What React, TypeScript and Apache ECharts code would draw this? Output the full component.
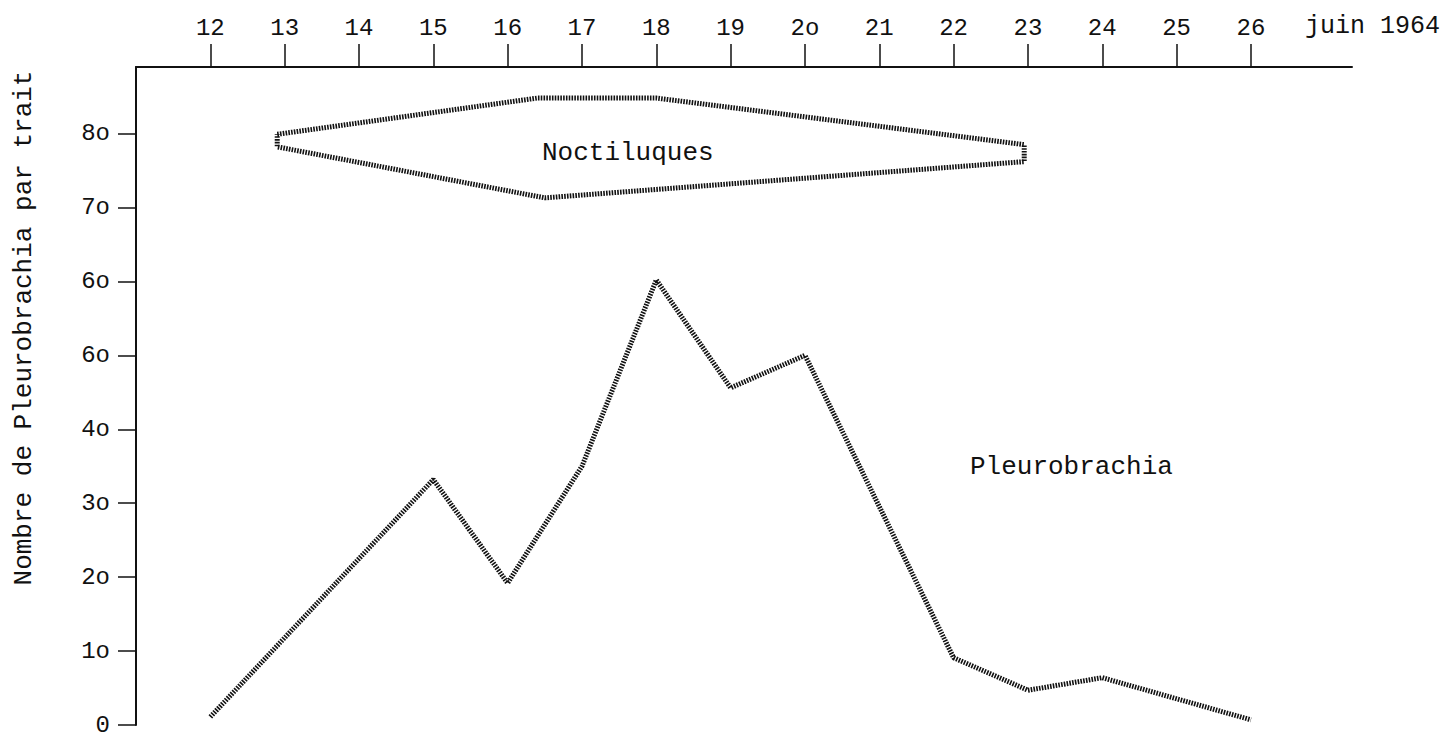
import React, { useEffect, useRef } from "react";
import * as echarts from "echarts";

// Days of June 1964 (x) and catch counts (y)
const dayTicks = [12, 13, 14, 15, 16, 17, 18, 19, 20, 21, 22, 23, 24, 25, 26];
const dayTickLabels = ["12", "13", "14", "15", "16", "17", "18", "19", "2o", "21", "22", "23", "24", "25", "26"];
const countTicks = [0, 10, 20, 30, 40, 50, 60, 70, 80];
const countTickLabels = ["0", "1o", "2o", "3o", "4o", "6o", "6o", "7o", "8o"];

const pleuroDays = [12, 15, 16, 17, 18, 19, 20, 22, 23, 24, 26];
const pleuroCounts = [1.1, 33.2, 19.2, 35, 60.2, 45.6, 50, 9.1, 4.7, 6.4, 0.7];

// Outline of the Noctiluques band (closed shape)
const noctiDays = [12.9, 16.4, 18, 22.95, 22.95, 16.5, 12.9, 12.9];
const noctiLevels = [79.9, 84.8, 84.8, 78.5, 76.2, 71.3, 78.2, 79.9];

const xTitle = "juin 1964";
const yTitle = "Nombre de Pleurobrachia par trait";
const noctiName = "Noctiluques";
const pleuroName = "Pleurobrachia";

const FONT = "'Liberation Mono', 'DejaVu Sans Mono', monospace";
const INK = "#111";

export default function App() {
  const ref = useRef<HTMLDivElement>(null);

  useEffect(() => {
    if (!ref.current) return;
    const chart = echarts.init(ref.current, undefined, { renderer: "svg" });
    const lineStyle = { color: INK, width: 5, type: [1.6, 1.2] as any, cap: "butt" as const };
    chart.setOption({
      animation: false,
      backgroundColor: "#fff",
      grid: { left: 136, right: 102, top: 67, bottom: 14, containLabel: false, outerBoundsMode: "none" },
      xAxis: {
        type: "value",
        position: "top",
        min: 11,
        max: 27.36,
        splitLine: { show: false },
        axisLine: { show: true, onZero: false, lineStyle: { color: INK, width: 2 } },
        axisTick: { show: true, length: 23, customValues: dayTicks, lineStyle: { color: INK, width: 1.5 } },
        axisLabel: {
          customValues: dayTicks,
          margin: 27,
          color: INK,
          fontFamily: FONT,
          fontSize: 24,
          formatter: (v: number) => dayTickLabels[dayTicks.indexOf(v)] ?? "",
        },
      },
      yAxis: {
        type: "value",
        min: 0,
        max: 89,
        splitLine: { show: false },
        axisLine: { show: true, onZero: false, lineStyle: { color: INK, width: 2 } },
        axisTick: { show: true, length: 18, customValues: countTicks, lineStyle: { color: INK, width: 1.5 } },
        axisLabel: {
          customValues: countTicks,
          margin: 26,
          color: INK,
          fontFamily: FONT,
          fontSize: 24,
          formatter: (v: number) => countTickLabels[countTicks.indexOf(v)] ?? "",
        },
      },
      series: [
        {
          type: "line",
          name: pleuroName,
          data: pleuroDays.map((d, i) => [d, pleuroCounts[i]]),
          symbol: "none",
          lineStyle,
        },
        {
          type: "line",
          name: noctiName,
          data: noctiDays.map((d, i) => [d, noctiLevels[i]]),
          symbol: "none",
          lineStyle,
        },
      ],
      graphic: [
        {
          type: "text",
          left: 1305,
          top: 14,
          style: { text: xTitle, fill: INK, font: `25px ${FONT}` },
        },
        {
          type: "text",
          x: 24,
          y: 328,
          rotation: Math.PI / 2,
          style: { text: yTitle, fill: INK, font: `26px ${FONT}`, align: "center", verticalAlign: "middle" },
        },
        {
          type: "text",
          x: 542,
          y: 153,
          style: { text: noctiName, fill: INK, font: `26px ${FONT}`, verticalAlign: "middle" },
        },
        {
          type: "text",
          x: 970,
          y: 467,
          style: { text: pleuroName, fill: INK, font: `26px ${FONT}`, verticalAlign: "middle" },
        },
      ],
    });
    return () => chart.dispose();
  }, []);

  return (
    <div
      ref={ref}
      style={{ position: "absolute", left: 0, top: 0, width: 1454, height: 739, background: "#fff" }}
    />
  );
}
